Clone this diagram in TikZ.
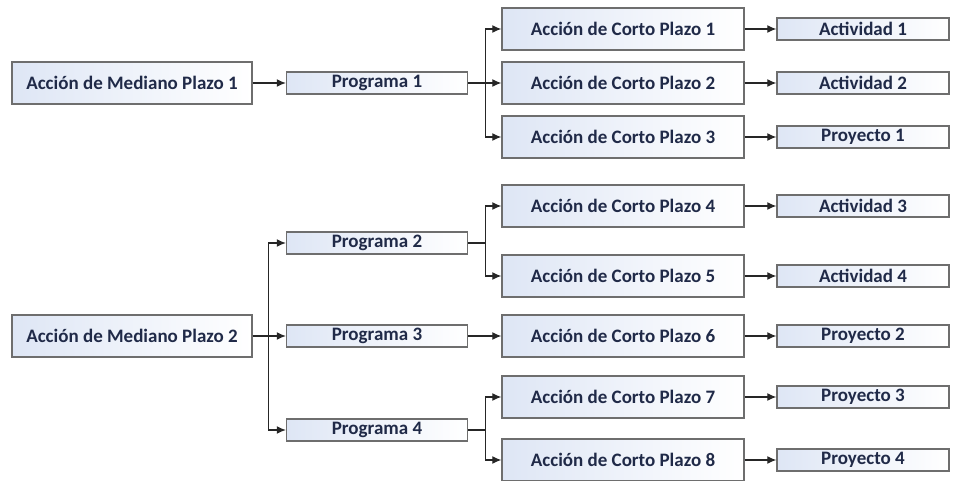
\documentclass[tikz,border=0pt]{standalone}
\usepackage{fontspec}
\setmainfont{Carlito}
\usetikzlibrary{arrows.meta,shadows}
\definecolor{boxline}{RGB}{110,110,110}
\definecolor{boxleft}{RGB}{222,230,245}
\definecolor{txt}{RGB}{32,42,72}
\begin{document}
\begin{tikzpicture}[x=1pt,y=-1pt,
  box/.style={draw=boxline,line width=1.4pt,left color=boxleft,right color=white,
    inner sep=0pt,anchor=center,text=txt,
    font=\fontsize{19}{20}\selectfont\bfseries},
  medbox/.style={box,minimum width=240pt,minimum height=42pt},
  progbox/.style={box,minimum width=181pt,minimum height=22pt},
  cortobox/.style={box,minimum width=242pt,minimum height=42pt},
  actbox/.style={box,minimum width=172pt,minimum height=22pt},
  conn/.style={draw=black!85,line width=1.2pt,-{Latex[length=9pt,width=8pt]}},
  ]
\useasboundingbox (0,0) rectangle (955,481);
% medium term
\node[medbox] (M1) at (132,83) {Acción de Mediano Plazo 1};
\node[medbox] (M2) at (132,336) {Acción de Mediano Plazo 2};
% programs
\node[progbox] (P1) at (377,83) {Programa 1};
\node[progbox] (P2) at (377,243) {Programa 2};
\node[progbox] (P3) at (377,336) {Programa 3};
\node[progbox] (P4) at (377,430) {Programa 4};
% short term
\node[cortobox] (C1) at (623,29) {Acción de Corto Plazo 1};
\node[cortobox] (C2) at (623,83) {Acción de Corto Plazo 2};
\node[cortobox] (C3) at (623,137) {Acción de Corto Plazo 3};
\node[cortobox] (C4) at (623,206) {Acción de Corto Plazo 4};
\node[cortobox] (C5) at (623,276) {Acción de Corto Plazo 5};
\node[cortobox] (C6) at (623,336) {Acción de Corto Plazo 6};
\node[cortobox] (C7) at (623,397) {Acción de Corto Plazo 7};
\node[cortobox] (C8) at (623,460) {Acción de Corto Plazo 8};
% activities / projects
\node[actbox] (A1) at (863,29) {Actividad 1};
\node[actbox] (A2) at (863,83) {Actividad 2};
\node[actbox] (R1) at (863,137) {Proyecto 1};
\node[actbox] (A3) at (863,206) {Actividad 3};
\node[actbox] (A4) at (863,276) {Actividad 4};
\node[actbox] (R2) at (863,336) {Proyecto 2};
\node[actbox] (R3) at (863,397) {Proyecto 3};
\node[actbox] (R4) at (863,460) {Proyecto 4};
% connectors
\draw[conn] (M1.east) -- (P1.west);
\draw[conn] (P1.east) -- ++(17,0) |- (C1.west);
\draw[conn] (P1.east) -- (C2.west);
\draw[conn] (P1.east) -- ++(17,0) |- (C3.west);
\draw[conn] (M2.east) -- ++(16,0) |- (P2.west);
\draw[conn] (M2.east) -- (P3.west);
\draw[conn] (M2.east) -- ++(16,0) |- (P4.west);
\draw[conn] (P2.east) -- ++(17,0) |- (C4.west);
\draw[conn] (P2.east) -- ++(17,0) |- (C5.west);
\draw[conn] (P3.east) -- (C6.west);
\draw[conn] (P4.east) -- ++(17,0) |- (C7.west);
\draw[conn] (P4.east) -- ++(17,0) |- (C8.west);
\draw[conn] (C1.east) -- (A1.west);
\draw[conn] (C2.east) -- (A2.west);
\draw[conn] (C3.east) -- (R1.west);
\draw[conn] (C4.east) -- (A3.west);
\draw[conn] (C5.east) -- (A4.west);
\draw[conn] (C6.east) -- (R2.west);
\draw[conn] (C7.east) -- (R3.west);
\draw[conn] (C8.east) -- (R4.west);
\end{tikzpicture}
\end{document}
